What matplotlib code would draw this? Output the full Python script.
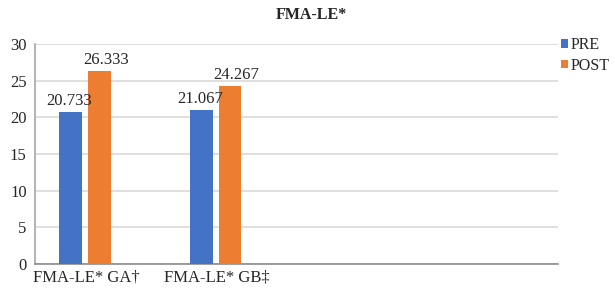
import matplotlib
matplotlib.use("Agg")
import matplotlib.pyplot as plt
import numpy as np

categories = ["FMA-LE* GA\u2020", "FMA-LE* GB\u2021"]
pre = [20.733, 21.067]
post = [26.333, 24.267]
series_names = ["PRE", "POST"]
title = "FMA-LE*"

plt.rcParams['font.family'] = ['Liberation Serif', 'DejaVu Serif']
fig = plt.figure(figsize=(6.15, 2.9), dpi=100)
ax = fig.add_axes([35/615, 1-264/290, (558-35)/615, (264-44)/290])

x = np.arange(len(categories))
w = 0.172
off = 0.11
blue = '#4472C4'
orange = '#ED7D31'
b1 = ax.bar(x - off, pre, w, color=blue, label=series_names[0], zorder=3)
b2 = ax.bar(x + off, post, w, color=orange, label=series_names[1], zorder=3)
for bars, vals, dx in ((b1, pre, -0.01), (b2, post, 0.05)):
    for r, v in zip(bars, vals):
        ax.text(r.get_x() + r.get_width()/2 + dx, v + 0.4, f"{v:.3f}", ha='center', va='bottom',
                fontsize=12, color='#262626', zorder=4)

ax.set_ylim(0, 30)
ax.set_yticks(range(0, 31, 5))
ax.set_xlim(-0.383, 3.62)
ax.set_xticks(x + 0.01)
ax.set_xticklabels(categories)
ax.tick_params(axis='both', length=0, labelsize=12, colors='#262626')
ax.tick_params(axis='y', pad=6)
ax.tick_params(axis='x', pad=4)
ax.grid(axis='y', color='#D9D9D9', linewidth=1.2, zorder=0)
for s in ['top', 'right']:
    ax.spines[s].set_visible(False)
ax.spines['left'].set_color('#A6A6A6')
ax.spines['bottom'].set_color('#8C8C8C')
ax.spines['bottom'].set_linewidth(1.2)
ax.spines['left'].set_linewidth(1.2)

fig.text(311/615, 1-15/290, title, ha='center', va='center', fontsize=11.5, fontweight='bold', color='#262626')
leg = fig.legend(handles=[b1, b2], loc='upper left', bbox_to_anchor=(561/615, 1-37/290),
                 frameon=False, fontsize=11.5, handlelength=0.45, handleheight=0.45,
                 handletextpad=0.15, labelspacing=0.3, borderaxespad=0, borderpad=0)
for t in leg.get_texts():
    t.set_color('#262626')

fig.savefig('out.png', dpi=100)
